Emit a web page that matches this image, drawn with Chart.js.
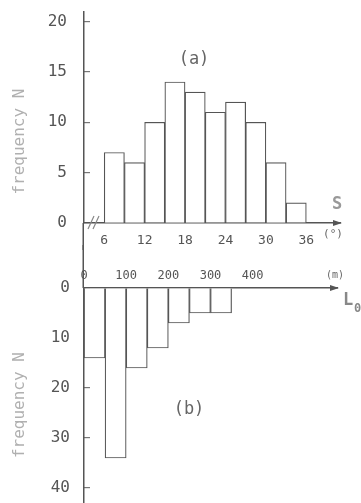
<!DOCTYPE html>
<html><head><meta charset="utf-8">
<script src="https://cdn.jsdelivr.net/npm/chart.js@4"></script>
<style>
html,body{margin:0;padding:0;background:#fff;}
#wrap{position:relative;width:361px;height:503px;overflow:hidden;background:#fff}
#c1{position:absolute;left:0;top:0}
#c2{position:absolute;left:0;top:245px}
</style></head><body>
<div id="wrap"><canvas id="c1" width="361" height="250"></canvas><canvas id="c2" width="361" height="258"></canvas></div>
<script>
// (a) slope S histogram, bins of 3 degrees (bin centres)
const slopeBinCenters = [7.5, 10.5, 13.5, 16.5, 19.5, 22.5, 25.5, 28.5, 31.5, 34.5];
const slopeFreq = [7, 6, 10, 14, 13, 11, 12, 10, 6, 2];
const slopeTicks = [6, 12, 18, 24, 30, 36];
const freqTicksA = [0, 5, 10, 15, 20];
// (b) length L0 histogram, bins of 50 m (bin centres)
const lengthBinCenters = [25, 75, 125, 175, 225, 275, 325];
const lengthFreq = [14, 34, 16, 12, 7, 5, 5];
const lengthTicks = [0, 100, 200, 300, 400];
const freqTicksB = [0, 10, 20, 30, 40];

const MONO = 'DejaVu Sans Mono';
const AX = '#555';

function setTicks(arr){ return s => { s.ticks = arr.map(v => ({value: v})); }; }

const annotateA = {
  id: 'annA',
  afterDraw(chart){
    const ctx = chart.ctx, a = chart.chartArea;
    ctx.save();
    ctx.strokeStyle = AX; ctx.lineWidth = 1.5;
    // axis continues below
    ctx.beginPath(); ctx.moveTo(a.left - 0.75, a.bottom); ctx.lineTo(a.left - 0.75, chart.height); ctx.stroke();
    // arrow head on S axis
    ctx.fillStyle = AX;
    ctx.beginPath(); ctx.moveTo(a.right + 2, a.bottom); ctx.lineTo(a.right - 7, a.bottom - 3); ctx.lineTo(a.right - 7, a.bottom + 3); ctx.closePath(); ctx.fill();
    // axis break mark
    ctx.strokeStyle = '#888'; ctx.lineWidth = 1.2;
    ctx.beginPath(); ctx.moveTo(a.left + 4, a.bottom + 6); ctx.lineTo(a.left + 10, a.bottom - 7);
    ctx.moveTo(a.left + 9, a.bottom + 6); ctx.lineTo(a.left + 15, a.bottom - 7); ctx.stroke();
    // labels
    ctx.textAlign = 'center'; ctx.textBaseline = 'middle';
    ctx.fillStyle = '#666'; ctx.font = '17px "' + MONO + '"';
    ctx.fillText('(a)', 194, 60);
    ctx.fillStyle = '#999'; ctx.font = 'bold 17px "' + MONO + '"';
    ctx.fillText('S', 337, 205);
    ctx.fillStyle = '#666'; ctx.font = '11px "' + MONO + '"';
    ctx.fillText('(°)', 333, 234);
    ctx.restore();
  }
};

const annotateB = {
  id: 'annB',
  afterDraw(chart){
    const ctx = chart.ctx, a = chart.chartArea;
    ctx.save();
    ctx.strokeStyle = AX; ctx.lineWidth = 1.5;
    ctx.beginPath(); ctx.moveTo(a.left - 0.75, 0); ctx.lineTo(a.left - 0.75, a.top); ctx.stroke();
    ctx.fillStyle = AX;
    ctx.beginPath(); ctx.moveTo(a.right + 2, a.top); ctx.lineTo(a.right - 7, a.top - 3); ctx.lineTo(a.right - 7, a.top + 3); ctx.closePath(); ctx.fill();
    ctx.textAlign = 'center'; ctx.textBaseline = 'middle';
    ctx.fillStyle = '#666'; ctx.font = '17px "' + MONO + '"';
    ctx.fillText('(b)', 189, 165);
    ctx.font = '10px "' + MONO + '"';
    ctx.fillText('(m)', 335, 30);
    ctx.fillStyle = '#888'; ctx.font = 'bold 17px "' + MONO + '"';
    ctx.textAlign = 'left';
    ctx.fillText('L', 343, 56);
    ctx.font = 'bold 12px "' + MONO + '"';
    ctx.fillText('0', 354, 64);
    ctx.restore();
  }
};

const barDs = (xs, ys) => ({
  data: xs.map((x, i) => ({x: x, y: ys[i]})),
  backgroundColor: '#fff', borderColor: '#555', borderWidth: 1.2,
  barPercentage: 1, categoryPercentage: 1, grouped: false
});

new Chart(document.getElementById('c1'), {
  type: 'bar',
  data: { datasets: [barDs(slopeBinCenters, slopeFreq)] },
  options: {
    responsive: false, animation: false,
    layout: { padding: { left: 0, right: 21, top: 12, bottom: 0 } },
    plugins: { legend: { display: false }, tooltip: { enabled: false } },
    scales: {
      x: {
        type: 'linear', min: 3, max: 41, offset: false,
        afterBuildTicks: setTicks(slopeTicks),
        afterFit: s => { s.height = 27; s.paddingLeft = 0; s.paddingRight = 0; },
        grid: { display: true, drawOnChartArea: false, drawTicks: false, offset: false },
        border: { display: true, color: AX, width: 1.5 },
        ticks: { font: { family: MONO, size: 13 }, color: '#555', padding: 10, maxRotation: 0, autoSkip: false }
      },
      y: {
        min: 0, max: 20.95,
        afterBuildTicks: setTicks(freqTicksA),
        afterFit: s => { s.width = 84; s.paddingTop = 0; s.paddingBottom = 0; },
        grid: { drawOnChartArea: false, drawTicks: true, tickLength: -6, color: '#777', lineWidth: 1.2 },
        border: { display: true, color: AX, width: 1.5 },
        ticks: { font: { family: MONO, size: 16 }, color: '#555', padding: 23 },
        title: { display: true, text: 'frequency N     ', font: { family: MONO, size: 16 }, color: '#b0b0b0', padding: { top: 10, bottom: 0 } }
      }
    }
  },
  plugins: [annotateA]
});

new Chart(document.getElementById('c2'), {
  type: 'bar',
  data: { datasets: [barDs(lengthBinCenters, lengthFreq)] },
  options: {
    responsive: false, animation: false,
    layout: { padding: { left: 0, right: 24, top: 0, bottom: 0 } },
    plugins: { legend: { display: false }, tooltip: { enabled: false } },
    scales: {
      x: {
        type: 'linear', position: 'top', min: 0, max: 600, offset: false,
        afterBuildTicks: setTicks(lengthTicks),
        afterFit: s => { s.height = 43; s.paddingLeft = 0; s.paddingRight = 0; },
        grid: { display: true, drawOnChartArea: false, drawTicks: false, offset: false },
        border: { display: true, color: AX, width: 1.5 },
        ticks: { font: { family: MONO, size: 12 }, color: '#555', padding: 5, maxRotation: 0, autoSkip: false }
      },
      y: {
        min: 0, max: 43, reverse: true,
        afterBuildTicks: setTicks(freqTicksB),
        afterFit: s => { s.width = 84; s.paddingTop = 0; s.paddingBottom = 0; },
        grid: { drawOnChartArea: false, drawTicks: true, tickLength: -6, color: '#777', lineWidth: 1.2 },
        border: { display: true, color: AX, width: 1.5 },
        ticks: { font: { family: MONO, size: 16 }, color: '#555', padding: 20 },
        title: { display: true, text: 'frequency N  ', font: { family: MONO, size: 16 }, color: '#b0b0b0', padding: { top: 10, bottom: 0 } }
      }
    }
  },
  plugins: [annotateB]
});
</script>
</body></html>
